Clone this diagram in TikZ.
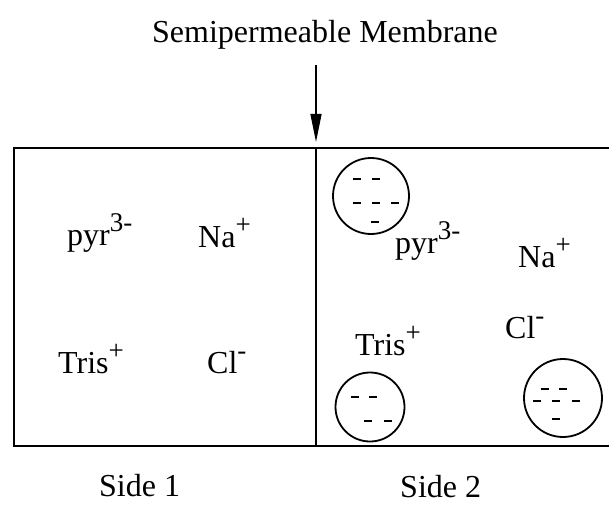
\documentclass[tikz,border=0pt]{standalone}
\usepackage{fontspec}
\setmainfont{Liberation Serif}
\usetikzlibrary{arrows.meta,calc}
\newcommand{\ionsup}[1]{\raisebox{14pt}{\fontsize{27}{27}\selectfont #1}}

\begin{document}
\begin{tikzpicture}[x=1pt, y=-1pt, >={Triangle[length=28pt,width=11pt]},
  ion/.style={anchor=base west, inner sep=0pt, font=\fontsize{32}{36}\selectfont},
  bead/.style={draw, circle, line width=1.8pt, inner sep=0pt},
  charge/.style={line width=2pt}]
  \useasboundingbox (0,0) rectangle (609,505);

  % Membrane label and arrow
  \node[ion, anchor=base] (title) at (325,43) {Semipermeable Membrane};
  \coordinate (arrowtop) at (316,65);
  \coordinate (arrowtip) at (316,142);
  \draw[->, line width=1.4pt] (arrowtop) -- (arrowtip);

  % Container, open on the right
  \draw[line width=2.6pt] (609,148) -- (14,148) -- (14,446) -- (609,446);
  \draw[line width=2pt] (316,148) -- (316,446);

  % Side 1
  \node[ion] (pyrA) at (67,245) {pyr\ionsup{3-}};
  \node[ion] (naA) at (198,247) {Na\ionsup{+}};
  \node[ion] (trisA) at (58,373) {Tris\ionsup{+}};
  \node[ion] (clA) at (207,373) {Cl\ionsup{-}};

  % Side 2
  \node[ion] (pyrB) at (395,253) {pyr\ionsup{3-}};
  \node[ion] (naB) at (518,267) {Na\ionsup{+}};
  \node[ion] (trisB) at (355,355) {Tris\ionsup{+}};
  \node[ion] (clB) at (505,338) {Cl\ionsup{-}};

  % Charged particles
  \node[bead, minimum size=76pt] (beadA) at (371,196) {};
  \foreach \dx/\dy in {-14.5/-17, 5/-17, -14.5/7, 5/7, 24/7, 4/26}
    \draw[charge] ($(beadA)+(\dx-4,\dy)$) -- ($(beadA)+(\dx+4,\dy)$);
  \node[bead, minimum size=69pt] (beadB) at (370,407) {};
  \foreach \dx/\dy in {-15.5/-10, 3/-10, -2/14, 17.5/14}
    \draw[charge] ($(beadB)+(\dx-4,\dy)$) -- ($(beadB)+(\dx+4,\dy)$);
  \node[bead, minimum size=78pt] (beadC) at (563,398) {};
  \foreach \dx/\dy in {-18.5/-9, 0/-9, -26/3, -7/3, 13/3, -7/21}
    \draw[charge] ($(beadC)+(\dx-4,\dy)$) -- ($(beadC)+(\dx+4,\dy)$);

  % Side labels
  \node[ion] (sideA) at (99,496) {Side 1};
  \node[ion] (sideB) at (400,497) {Side 2};
\end{tikzpicture}
\end{document}
